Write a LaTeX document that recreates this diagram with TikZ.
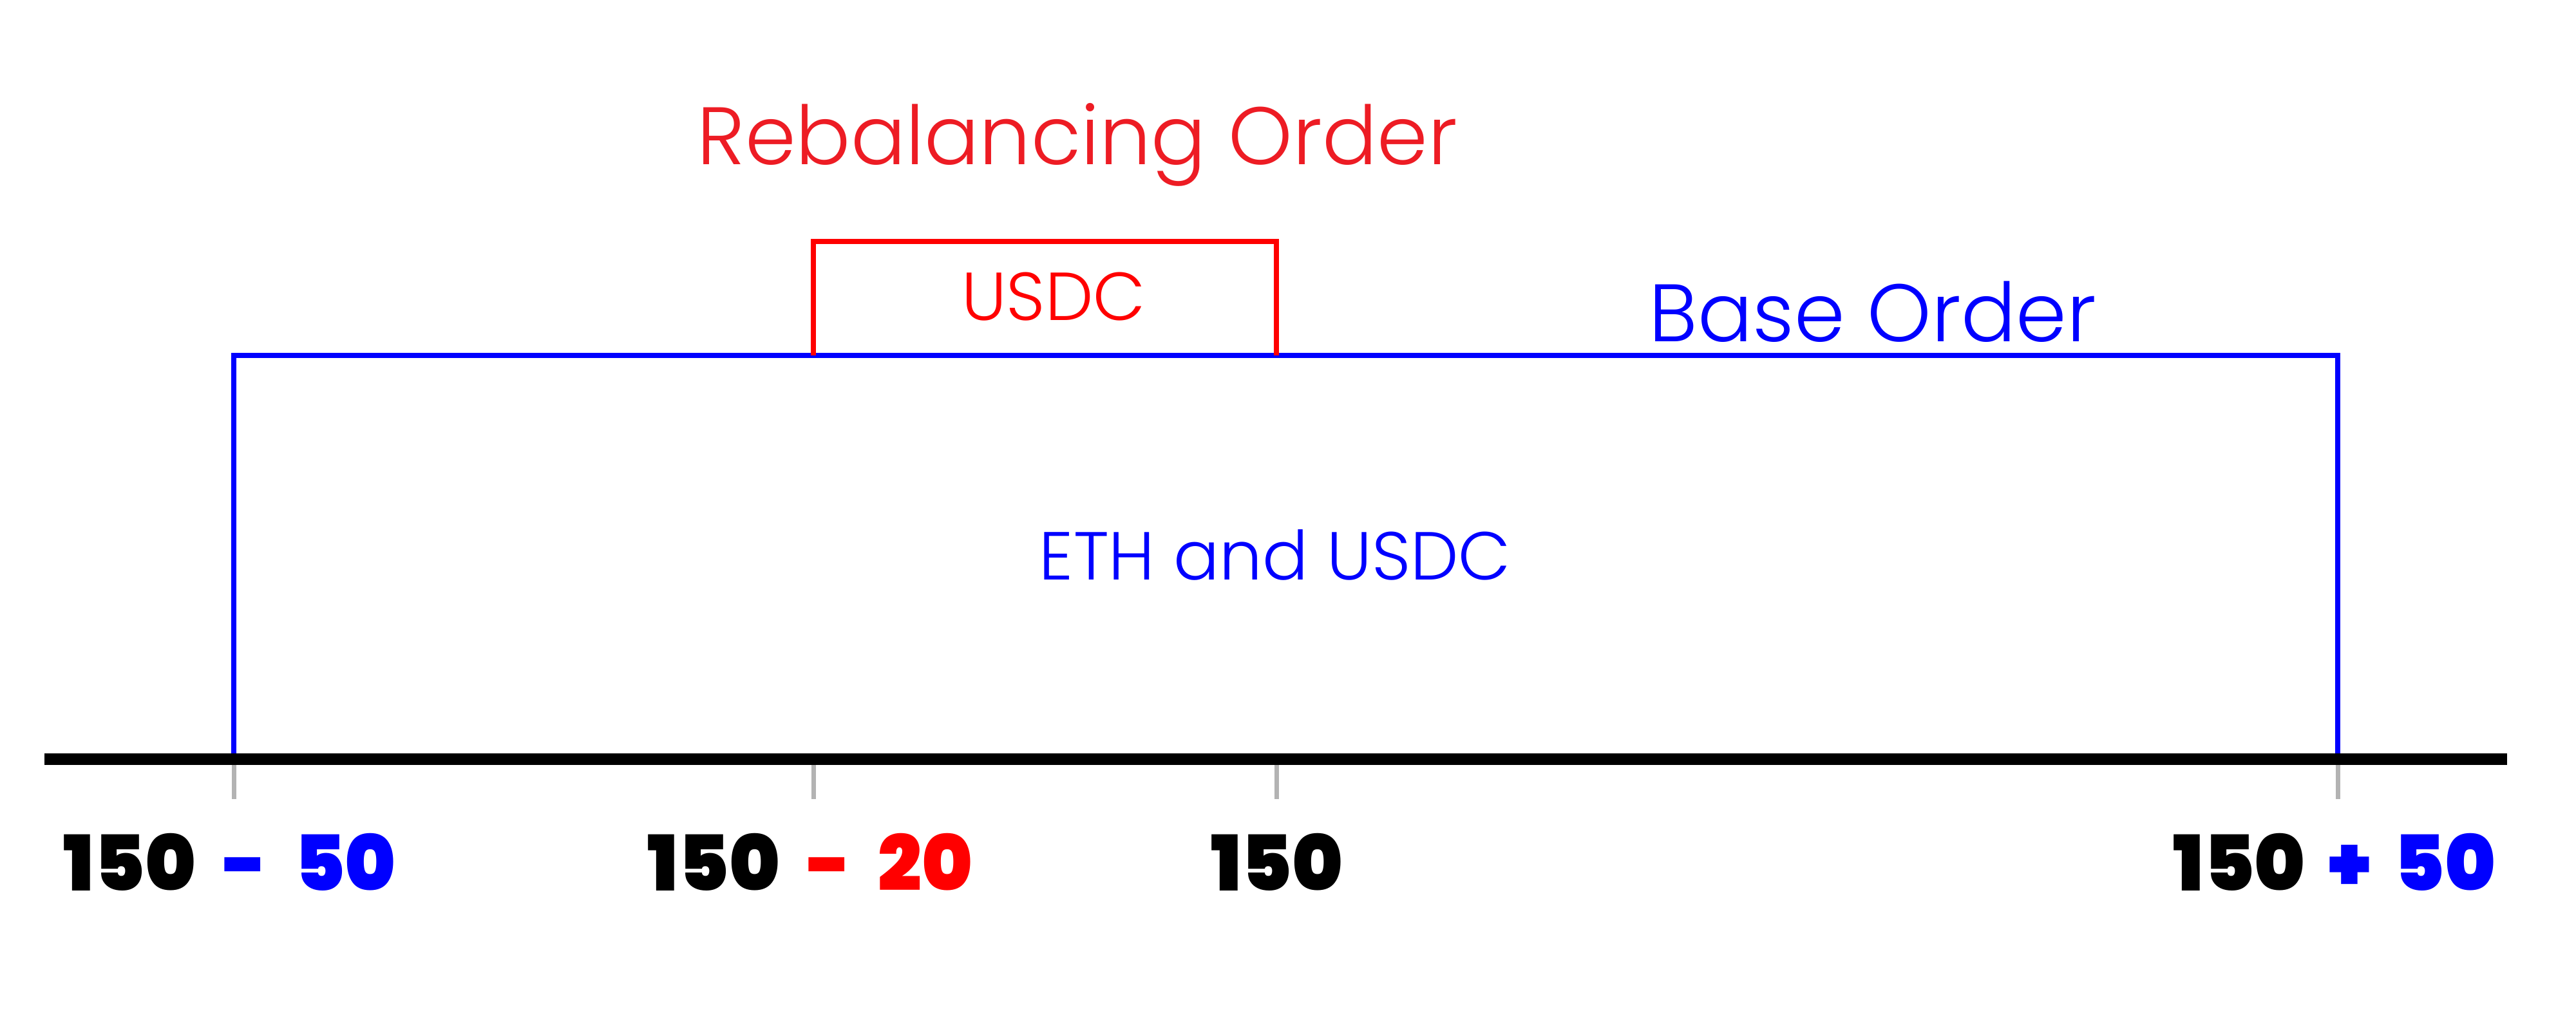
\documentclass[tikz,border=0pt]{standalone}
\usepackage{fontspec}
\usepackage{tikz}
\usetikzlibrary{positioning}
\setmainfont{Poppins Light}
\newfontfamily\numfont{Poppins Black}
\definecolor{baseblue}{HTML}{0000FF}
\definecolor{rebred}{HTML}{FF0000}
\definecolor{titlered}{HTML}{ED1C24}
\definecolor{tickgray}{HTML}{B3B3B3}

\begin{document}
\begin{tikzpicture}[
    orderline/.style={line width=0.08cm, #1},
    tickmark/.style={line width=0.07cm, tickgray},
    title/.style={font=\fontsize{36}{38}\selectfont, text=#1, anchor=base, inner sep=0pt},
    content/.style={font=\fontsize{30}{32}\selectfont, text=#1, anchor=base, inner sep=0pt},
    price/.style={font=\numfont\fontsize{34}{36}\selectfont, anchor=base, inner sep=0pt},
]
    \useasboundingbox (0,0) rectangle (40,15.66);

    % Price points on the axis
    \coordinate (low)  at (3.63,3.87);
    \coordinate (reb)  at (12.63,3.87);
    \coordinate (mid)  at (19.82,3.87);
    \coordinate (high) at (36.30,3.87);

    % Base order
    \draw[orderline=baseblue] ([yshift=0.09cm]low) |- (15,10.14) -| ([yshift=0.09cm]high);
    \node[title=baseblue] (basettl) at (29.08,10.36) {Base Order};
    \node[content=baseblue] (basetxt) at (19.80,6.66) {ETH and USDC};

    % Rebalancing order
    \draw[orderline=rebred] (12.63,10.14) |- (16,11.91) -| (19.82,10.14);
    \node[title=titlered] (rebttl) at (16.73,13.10) {Rebalancing Order};
    \node[content=rebred] (rebtxt) at (16.36,10.69) {USDC};

    % Axis
    \draw[line width=0.18cm] (0.69,3.87) -- (38.93,3.87);
    \foreach \p in {low, reb, mid, high}
        \draw[tickmark] ([yshift=-0.09cm]\p) -- ([yshift=-0.62cm]\p);

    % Labels
    \node[price] (lowlbl)  at (3.57,1.83)  {150\hspace{0.35em}\textcolor{baseblue}{-\hspace{0.35em}50}};
    \node[price] (reblbl)  at (12.58,1.83) {150\hspace{0.35em}\textcolor{rebred}{-\hspace{0.35em}20}};
    \node[price] (midlbl)  at (19.83,1.83) {150};
    \node[price] (highlbl) at (36.25,1.83) {150\hspace{0.3em}\textcolor{baseblue}{+\hspace{0.3em}50}};
\end{tikzpicture}
\end{document}
